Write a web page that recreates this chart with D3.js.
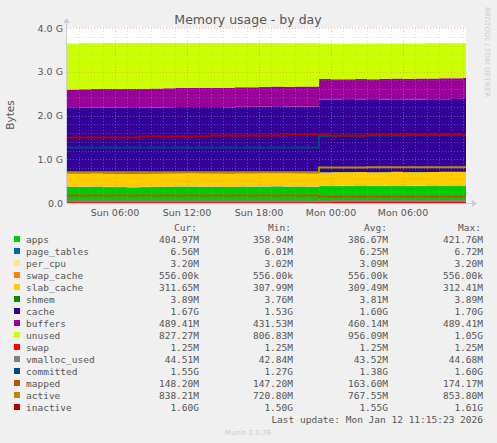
<!DOCTYPE html>
<html><head><meta charset="utf-8">
<script src="https://cdn.jsdelivr.net/npm/d3@7"></script>
<style>body{margin:0;background:#f0f0f0}svg{display:block}</style>
</head><body><svg id="c" width="497" height="443"></svg>
<script>
// hours since Sun 00:00
const hours = d3.range(2, 36);
const endHour = 35.25;
// stacked series (MB)
const apps = [372,375,378,370,368,365,370,372,375,378,380,376,374,372,378,380,382,385,380,378,375,395,400,398,402,396,400,405,398,400,402,404,405,405];
const pageTables = [6.0,6.1,6.1,6.2,6.2,6.2,6.3,6.3,6.2,6.2,6.2,6.3,6.3,6.3,6.2,6.2,6.2,6.3,6.3,6.3,6.3,6.4,6.4,6.4,6.5,6.5,6.5,6.5,6.6,6.6,6.6,6.6,6.6,6.6];
const perCpu = Array(34).fill(3.1);
const swapCache = Array(34).fill(0.556);
const slabCache = [308,308,309,309,309,309,309,309,310,310,310,310,310,309,309,309,309,310,310,310,310,311,311,311,311,311,312,312,312,312,312,312,312,312];
const shmem = [3.8,3.8,3.8,3.8,3.8,3.8,3.8,3.8,3.8,3.8,3.8,3.8,3.8,3.8,3.8,3.8,3.8,3.8,3.8,3.8,3.8,3.9,3.9,3.9,3.9,3.9,3.9,3.9,3.9,3.9,3.9,3.9,3.9,3.9];
const cache = [1530,1532,1534,1535,1537,1538,1540,1540,1542,1543,1545,1546,1548,1549,1550,1551,1552,1554,1555,1556,1558,1700,1690,1688,1690,1692,1694,1695,1697,1698,1700,1701,1702,1703];
const buffers = [432,434,436,438,440,441,442,444,446,448,450,451,452,454,456,458,460,462,465,468,470,480,482,483,484,485,486,486,487,488,488,489,489,489];
const unused = [1080,1076,1071,1077,1076,1078,1070,1066,1060,1054,1046,1048,1047,1048,1039,1035,1031,1022,1018,1016,1013,831,831,834,828,834,828,823,825,822,820,816,814,813];
// line series (MB)
const swap = Array(34).fill(1.25);
const vmallocUsed = [42.8,42.9,43,43.1,43.1,43.2,43.2,43.3,43.3,43.4,43.4,43.5,43.5,43.5,43.6,43.6,43.6,43.7,43.7,43.7,43.8,43.8,43.9,43.9,44,44,44.1,44.2,44.2,44.3,44.4,44.4,44.5,44.5];
const committed = [1300,1300,1300,1300,1300,1300,1300,1300,1300,1300,1300,1300,1300,1300,1300,1300,1300,1300,1300,1300,1300,1567,1567,1570,1575,1580,1580,1582,1585,1585,1585,1587,1587,1587];
const mapped = [174,174,174,174,174,174,174,174,174,174,174,174,174,174,174,174,174,174,174,174,174,148,148,148,148,148,148,148,148,148,148,148,148,148];
const active = [721,721,721,721,721,721,721,721,721,721,721,721,721,721,721,721,721,721,721,721,721,830,832,832,833,834,835,835,836,836,837,837,838,838];
const inactive = [1536,1536,1536,1536,1536,1536,1556,1556,1556,1556,1556,1556,1577,1577,1577,1577,1577,1577,1597,1597,1597,1617,1577,1577,1577,1597,1597,1597,1607,1607,1607,1617,1617,1617];

const stackNames = ["apps","page_tables","per_cpu","swap_cache","slab_cache","shmem","cache","buffers","unused"];
const stackVals = [apps,pageTables,perCpu,swapCache,slabCache,shmem,cache,buffers,unused];
const stackColors = ["#00cc00","#0066b3","#ffe680","#ff8000","#ffcc00","#008f00","#330099","#990099","#ccff00"];
const lineNames = ["swap","vmalloc_used","committed","mapped","active","inactive"];
const lineVals = [swap,vmallocUsed,committed,mapped,active,inactive];
const lineColors = ["#ff0000","#808080","#00487d","#b35a00","#b38f00","#b30000"];
const yTicks = [0,1,2,3,4];
const yTickLabels = ["0.0","1.0 G","2.0 G","3.0 G","4.0 G"];
const xTicks = [6,12,18,24,30];
const xTickLabels = ["Sun 06:00","Sun 12:00","Sun 18:00","Mon 00:00","Mon 06:00"];
const legendNames = ["apps","page_tables","per_cpu","swap_cache","slab_cache","shmem","cache","buffers","unused","swap","vmalloc_used","committed","mapped","active","inactive"];
const legendColors = [...stackColors, ...lineColors];
const cur = ["404.97M","6.56M","3.20M","556.00k","311.65M","3.89M","1.67G","489.41M","827.27M","1.25M","44.51M","1.55G","148.20M","838.21M","1.60G"];
const mins = ["358.94M","6.01M","3.02M","556.00k","307.99M","3.76M","1.53G","431.53M","806.83M","1.25M","42.84M","1.27G","147.20M","720.80M","1.50G"];
const avgs = ["386.67M","6.25M","3.09M","556.00k","309.49M","3.81M","1.60G","460.14M","956.09M","1.25M","43.52M","1.38G","163.60M","767.55M","1.55G"];
const maxs = ["421.76M","6.72M","3.20M","556.00k","312.41M","3.89M","1.70G","489.41M","1.05G","1.25M","44.68M","1.60G","174.17M","853.80M","1.61G"];

const svg = d3.select("#c");
const L=67,R=466,T=28,B=203;
const x = d3.scaleLinear().domain([2,endHour]).range([L,R]);
const y = d3.scaleLinear().domain([0,4096]).range([B,T]);
const G=1024;
svg.append("rect").attr("x",L).attr("y",T).attr("width",R-L).attr("height",B-T).attr("fill","#fff");

const hx = [...hours, endHour];
const ext = a => [...a, a[a.length-1]];
const rows = hx.map((h,i)=>{const o={h}; stackNames.forEach((n,k)=>o[n]=ext(stackVals[k])[i]); return o;});
const series = d3.stack().keys(stackNames)(rows);
const area = d3.area().curve(d3.curveStepAfter).x(d=>x(d.data.h)).y0(d=>y(d[0])).y1(d=>y(d[1]));
svg.selectAll(".a").data(series).join("path").attr("d",area).attr("fill",(d,i)=>stackColors[i]);

// grid
const g = svg.append("g");
d3.range(0,4.01,0.2).forEach(v=>{
  const major = Math.abs(v-Math.round(v))<1e-6;
  g.append("line").attr("x1",L).attr("x2",R).attr("y1",Math.round(y(v*G))+0.5).attr("y2",Math.round(y(v*G))+0.5)
   .attr("stroke",major?"#e08080":"#b0b0b0").attr("stroke-width",0.6).attr("stroke-dasharray","1,2").attr("opacity",major?0.9:0.6);
});
d3.range(3,36).forEach(h=>{
  const major = h%6===0;
  g.append("line").attr("y1",T).attr("y2",B).attr("x1",Math.round(x(h))+0.5).attr("x2",Math.round(x(h))+0.5)
   .attr("stroke",major?"#e08080":"#b0b0b0").attr("stroke-width",0.6).attr("stroke-dasharray","1,2").attr("opacity",major?0.9:0.6);
});

const line = d3.line().curve(d3.curveStepAfter).x((d,i)=>x(hx[i])).y(d=>y(d));
lineVals.forEach((v,k)=>svg.append("path").attr("d",line(ext(v))).attr("fill","none").attr("stroke",lineColors[k]).attr("stroke-width",2));

// axes
svg.append("line").attr("x1",L).attr("x2",R+6).attr("y1",B+0.5).attr("y2",B+0.5).attr("stroke","#ccd");
svg.append("line").attr("x1",L-0.5).attr("x2",L-0.5).attr("y1",B).attr("y2",T-6).attr("stroke","#ccd");
svg.append("path").attr("d",`M${R+6},${B-3}L${R+11},${B+0.5}L${R+6},${B+4}Z`).attr("fill","#ccd");
svg.append("path").attr("d",`M${L-4},${T-5}L${L-0.5},${T-10}L${L+3},${T-5}Z`).attr("fill","#ccd");
const f = "DejaVu Sans, sans-serif";
yTicks.forEach((v,i)=>svg.append("text").attr("x",L-4).attr("y",y(v*G)+3.5).attr("text-anchor","end").attr("font-family",f).attr("font-size",9.5).attr("fill","#555").text(yTickLabels[i]));
xTicks.forEach((h,i)=>svg.append("text").attr("x",x(h)).attr("y",B+13).attr("text-anchor","middle").attr("font-family",f).attr("font-size",9.5).attr("fill","#555").text(xTickLabels[i]));
svg.append("text").attr("x",248).attr("y",24).attr("text-anchor","middle").attr("font-family",f).attr("font-size",12.5).attr("fill","#555").text("Memory usage - by day");
svg.append("text").attr("transform","translate(14,115) rotate(-90)").attr("text-anchor","middle").attr("font-family",f).attr("font-size",10.5).attr("fill","#555").text("Bytes");
svg.append("text").attr("transform","translate(485,7) rotate(90)").attr("font-family",f).attr("font-size",7).attr("fill","#ccc").text("RRDTOOL / TOBI OETIKER");

// legend
const mf = "DejaVu Sans Mono, monospace";
const cols=[199,293,388,483], heads=["Cur:","Min:","Avg:","Max:"];
heads.forEach((h,i)=>svg.append("text").attr("x",[174,268,364,458][i]).attr("y",231).attr("font-family",mf).attr("font-size",9.5).attr("fill","#555").text(h));
legendNames.forEach((n,i)=>{
  const yy=243+i*12;
  svg.append("rect").attr("x",14).attr("y",yy-7).attr("width",6).attr("height",6).attr("fill",legendColors[i]);
  svg.append("text").attr("x",26).attr("y",yy).attr("font-family",mf).attr("font-size",9.5).attr("fill","#555").text(n);
  [cur,mins,avgs,maxs].forEach((arr,c)=>svg.append("text").attr("x",cols[c]).attr("y",yy).attr("text-anchor","end").attr("font-family",mf).attr("font-size",9.5).attr("fill","#555").text(arr[i]));
});
svg.append("text").attr("x",483).attr("y",423).attr("text-anchor","end").attr("font-family",mf).attr("font-size",9.5).attr("fill","#555").text("Last update: Mon Jan 12 11:15:23 2026");
svg.append("text").attr("x",248).attr("y",435).attr("text-anchor","middle").attr("font-family",f).attr("font-size",7).attr("fill","#ccc").text("Munin 2.0.76");
</script></body></html>
